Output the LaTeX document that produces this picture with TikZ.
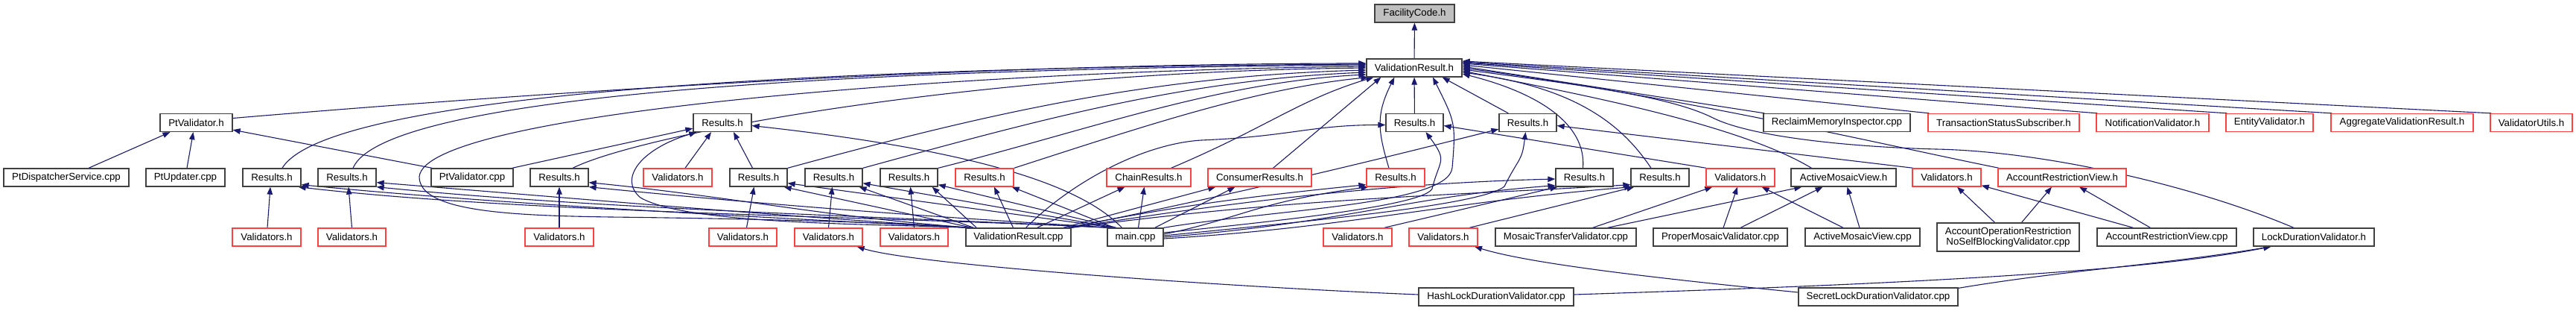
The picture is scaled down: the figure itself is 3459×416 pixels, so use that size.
\documentclass[tikz,border=0pt]{standalone}
\usepackage{fontspec}
\setmainfont{Liberation Sans}
\usetikzlibrary{arrows.meta,calc}
\definecolor{edgec}{RGB}{25,25,112}
\definecolor{redb}{RGB}{255,64,64}
\definecolor{grayb}{RGB}{64,64,64}
\definecolor{fcfill}{RGB}{191,191,191}
\pgfdeclarelayer{bg}
\pgfsetlayers{bg,main}
\begin{document}
\begin{tikzpicture}[x=1pt,y=-1pt,
  nb/.style={draw=grayb, line width=1.3pt, fill=white, minimum height=24pt, inner sep=0pt,
    font=\fontsize{13.3}{13.6}\selectfont, text=black, align=center},
  rb/.style={nb, draw=redb},
  dep/.style={draw=edgec, line width=1.1pt, {Triangle[length=10pt,width=7.5pt]}-}]
\useasboundingbox (0,0) rectangle (3459,416);
% row 0 and 1
\node[nb, fill=fcfill, minimum width=107pt] (FC) at (1899.5,18) {FacilityCode.h};
\node[nb, minimum width=128pt] (VR) at (1899,91) {ValidationResult.h};
% row 2
\node[nb, minimum width=97pt] (PtVh) at (263.5,164.5) {PtValidator.h};
\node[nb, minimum width=78pt] (R2a) at (970,164.5) {Results.h};
\node[nb, minimum width=77pt] (R2b) at (1899.5,164.5) {Results.h};
\node[nb, minimum width=77pt] (R2c) at (2051.5,164.5) {Results.h};
\node[nb, minimum width=197pt] (RMI) at (2466.5,164.5) {ReclaimMemoryInspector.cpp};
\node[rb, minimum width=203pt] (TSS) at (2690.5,164.5) {TransactionStatusSubscriber.h};
\node[rb, minimum width=151pt] (NV) at (2890.5,164.5) {NotificationValidator.h};
\node[rb, minimum width=117pt] (EV) at (3047.5,164.5) {EntityValidator.h};
\node[rb, minimum width=191pt] (AVR) at (3225.5,164.5) {AggregateValidationResult.h};
\node[rb, minimum width=110pt] (VU) at (3399,164.5) {ValidatorUtils.h};
% row 3
\node[nb, minimum width=168pt] (PDS) at (89,238) {PtDispatcherService.cpp};
\node[nb, minimum width=106pt] (PU) at (249,238) {PtUpdater.cpp};
\node[nb, minimum width=78pt] (R3a) at (365,238) {Results.h};
\node[nb, minimum width=78pt] (R3b) at (466,238) {Results.h};
\node[nb, minimum width=110pt] (PVc) at (634,238) {PtValidator.cpp};
\node[nb, minimum width=78pt] (R3c) at (751,238) {Results.h};
\node[rb, minimum width=92pt] (V3a) at (910,238) {Validators.h};
\node[nb, minimum width=77pt] (R3d) at (1018.5,238) {Results.h};
\node[nb, minimum width=77pt] (R3e) at (1119.5,238) {Results.h};
\node[nb, minimum width=77pt] (R3f) at (1220.5,238) {Results.h};
\node[rb, minimum width=78pt] (R3g) at (1322,238) {Results.h};
\node[rb, minimum width=113pt] (CR) at (1542.5,238) {ChainResults.h};
\node[rb, minimum width=139pt] (CoR) at (1691.5,238) {ConsumerResults.h};
\node[rb, minimum width=78pt] (R3h) at (1874,238) {Results.h};
\node[nb, minimum width=77pt] (R3i) at (2127.5,238) {Results.h};
\node[nb, minimum width=78pt] (R3j) at (2229,238) {Results.h};
\node[rb, minimum width=92pt] (V3b) at (2337,238) {Validators.h};
\node[nb, minimum width=141pt] (AMVh) at (2475.5,238) {ActiveMosaicView.h};
\node[rb, minimum width=92pt] (V3c) at (2614,238) {Validators.h};
\node[rb, minimum width=172pt] (ARVh) at (2769,238) {AccountRestrictionView.h};
% row 4
\node[rb, minimum width=92pt] (V4a) at (358,318) {Validators.h};
\node[rb, minimum width=91pt] (V4b) at (472.5,318) {Validators.h};
\node[rb, minimum width=92pt] (V4c) at (751,318) {Validators.h};
\node[rb, minimum width=91pt] (V4d) at (997.5,318) {Validators.h};
\node[rb, minimum width=91pt] (V4e) at (1112.5,318) {Validators.h};
\node[rb, minimum width=91pt] (V4f) at (1227.5,318) {Validators.h};
\node[nb, minimum width=141pt] (VRc) at (1367.5,318) {ValidationResult.cpp};
\node[nb, minimum width=75pt] (main) at (1524.5,318) {main.cpp};
\node[rb, minimum width=92pt] (V4g) at (1823,318) {Validators.h};
\node[rb, minimum width=92pt] (V4h) at (1938,318) {Validators.h};
\node[nb, minimum width=189pt] (MTV) at (2102.5,318) {MosaicTransferValidator.cpp};
\node[nb, minimum width=180pt] (PMV) at (2310,318) {ProperMosaicValidator.cpp};
\node[nb, minimum width=154pt] (AMVc) at (2501,318) {ActiveMosaicView.cpp};
\node[nb, minimum width=191pt, minimum height=38pt] (AOR) at (2696.5,318) {AccountOperationRestriction\\NoSelfBlockingValidator.cpp};
\node[nb, minimum width=187pt] (ARVc) at (2909.5,318) {AccountRestrictionView.cpp};
\node[nb, minimum width=162pt] (LDV) at (3107,318) {LockDurationValidator.h};
% row 5
\node[nb, minimum width=208pt] (HLD) at (2009,398) {HashLockDurationValidator.cpp};
\node[nb, minimum width=214pt] (SLD) at (2522,398) {SecretLockDurationValidator.cpp};

\begin{pgfonlayer}{bg}
\fill[white] (0,0) rectangle (3459,416);
\draw[dep] (FC) -- (VR);
% into ValidationResult.h, left side
\draw[dep] ($(VR.west)+(0,-6)$) .. controls +(-500,0) and +(450,-38) .. ($(PtVh.east)+(0,-6)$);
\draw[dep] ($(VR.west)+(0,-5)$) .. controls (1100,90) and (440,125) .. ($(R3a.north)+(14,0)$);
\draw[dep] ($(VR.west)+(0,-4)$) .. controls (1100,93) and (515,130) .. ($(R3b.north)+(8,0)$);
\draw[dep] ($(VR.west)+(0,-2)$) .. controls (1300,95) and (570,150) .. (563,237) .. controls (563,283) and (680,289) .. (820,291) .. controls (1000,293) and (1200,298) .. ($(VRc.north west)+(8,0)$);
\draw[dep] ($(VR.west)+(0,0)$) .. controls (1300,97) and (860,180) .. ($(R3c.north)+(18,0)$);
\draw[dep] ($(VR.west)+(0,3)$) .. controls +(-300,8) and +(250,-68) .. (R3d.north east);
\draw[dep] ($(VR.west)+(0,6)$) .. controls +(-250,10) and +(220,-60) .. (R3e.north east);
\draw[dep] ($(VR.west)+(0,9)$) .. controls +(-200,10) and +(200,-50) .. (R3f.north east);
\draw[dep] ($(VR.south west)+(3,0)$) .. controls +(-150,15) and +(180,-58) .. (R3g.north east);
\draw[dep] ($(VR.south west)+(10,0)$) .. controls +(-100,30) and +(130,-55) .. ($(CR.north)+(30,0)$);
\draw[dep] ($(VR.south west)+(20,0)$) -- ($(CoR.north)+(18,0)$);
\draw[dep] ($(VR.south west)+(38,0)$) .. controls +(-25,50) and +(-15,-50) .. ($(R3h.north)+(-9,0)$);
\draw[dep] (VR) -- (R2b);
\draw[dep] ($(VR.south)+(25,0)$) .. controls +(30,60) and +(5,-60) .. (1950,225) .. controls +(-5,50) and +(150,-25) .. (main.north east);
\draw[dep] ($(VR.south east)+(-27,0)$) -- ($(R2c.north west)+(13,0)$);
\draw[dep] ($(VR.east)+(0,8)$) .. controls +(100,25) and +(5,-60) .. ($(R3i.north)+(-2,0)$);
\draw[dep] ($(VR.east)+(0,6)$) .. controls +(150,20) and +(-40,-60) .. ($(R3j.north)+(-12,0)$);
\draw[dep] ($(VR.east)+(0,4)$) .. controls +(150,30) and +(-100,-60) .. ($(AMVh.north)+(-43,0)$);
\draw[dep] ($(VR.east)+(0,2)$) .. controls +(150,20) and +(-60,-30) .. (2300,158) .. controls +(50,25) and +(-120,-3) .. (2600,200) .. controls +(150,3) and +(-130,-55) .. ($(LDV.north)+(-27,0)$);
\draw[dep] ($(VR.east)+(0,0)$) .. controls +(300,40) and +(-150,-30) .. ($(ARVh.north west)+(2,0)$);
\draw[dep] ($(VR.east)+(0,-2)$) -- ($(RMI.north west)+(2,0)$);
\draw[dep] ($(VR.east)+(0,-4)$) -- ($(TSS.north west)+(2,0)$);
\draw[dep] ($(VR.east)+(0,-6)$) -- ($(NV.north west)+(2,0)$);
\draw[dep] ($(VR.east)+(0,-7)$) -- ($(EV.north west)+(2,0)$);
\draw[dep] ($(VR.east)+(0,-8)$) -- ($(AVR.north west)+(2,0)$);
\draw[dep] ($(VR.east)+(0,-9)$) -- ($(VU.north west)+(2,0)$);
% PtValidator.h
\draw[dep] ($(PtVh.south)+(-35,0)$) -- ($(PDS.north)+(30,0)$);
\draw[dep] ($(PtVh.south)+(-4,0)$) -- ($(PU.north)+(2,0)$);
\draw[dep] ($(PtVh.south east)+(0,-3)$) -- ($(PVc.north west)+(2,0)$);
% Results.h (R2a)
\draw[dep] ($(R2a.south west)+(0,-5)$) -- ($(PVc.north east)+(-2,0)$);
\draw[dep] ($(R2a.south)+(-15,0)$) -- ($(V3a.north)+(10,0)$);
\draw[dep] ($(R2a.south)+(15,0)$) -- ($(R3d.north)+(-8,0)$);
\draw[dep] ($(R2a.south west)+(5,0)$) .. controls (860,200) and (830,240) .. (860,265) .. controls (920,300) and (1150,300) .. ($(VRc.north west)+(12,0)$);
\draw[dep] ($(R2a.east)+(0,4)$) .. controls (1250,195) and (1440,235) .. ($(main.north west)+(20,0)$);
% row 3 to row 4 verticals
\draw[dep] ($(R3a.south)+(-2,0)$) -- ($(V4a.north)+(1,0)$);
\draw[dep] ($(R3b.south)+(2,0)$) -- (V4b.north);
\draw[dep] (R3c) -- (V4c);
\draw[dep] ($(R3d.south)+(-6,0)$) -- ($(V4d.north)+(5,0)$);
\draw[dep] ($(R3e.south)+(-2,0)$) -- (V4e.north);
\draw[dep] ($(R3f.south)+(2,0)$) -- (V4f.north);
% into ValidationResult.cpp and main.cpp
\draw[dep] ($(R3a.south east)+(0,-3)$) .. controls +(250,25) and +(-300,-15) .. ($(VRc.north west)+(3,0)$);
\draw[dep] ($(R3a.south east)+(-4,0)$) .. controls +(300,35) and +(-300,-15) .. ($(main.north west)+(3,0)$);
\draw[dep] ($(R3b.south east)+(0,-6)$) .. controls +(250,20) and +(-250,-15) .. ($(VRc.north west)+(5,0)$);
\draw[dep] ($(R3b.south east)+(0,0)$) .. controls +(300,30) and +(-300,-15) .. ($(main.north west)+(5,0)$);
\draw[dep] ($(R3c.south east)+(0,-6)$) .. controls +(200,20) and +(-200,-15) .. ($(VRc.north west)+(7,0)$);
\draw[dep] ($(R3c.south east)+(0,0)$) .. controls +(250,25) and +(-250,-15) .. ($(main.north west)+(7,0)$);
\draw[dep] ($(R3d.south east)+(-5,0)$) -- ($(VRc.north west)+(9,0)$);
\draw[dep] ($(R3d.south east)+(0,-5)$) -- ($(main.north west)+(9,0)$);
\draw[dep] ($(R3e.south east)+(-5,0)$) -- ($(VRc.north west)+(11,0)$);
\draw[dep] ($(R3e.south east)+(0,-5)$) -- ($(main.north west)+(11,0)$);
\draw[dep] ($(R3f.south east)+(-8,0)$) -- ($(VRc.north west)+(15,0)$);
\draw[dep] ($(R3f.south east)+(0,-3)$) -- ($(main.north west)+(13,0)$);
\draw[dep] ($(R3g.south)+(13,0)$) -- ($(VRc.north)+(-7,0)$);
\draw[dep] ($(R3g.south east)+(-3,0)$) -- ($(main.north west)+(10,0)$);
\draw[dep] ($(CR.south)+(-32,0)$) -- ($(VRc.north)+(25,0)$);
\draw[dep] ($(CR.south)+(-6,0)$) -- ($(main.north)+(4,0)$);
\draw[dep] ($(CoR.south west)+(11,0)$) -- ($(VRc.north east)+(-11,0)$);
\draw[dep] ($(CoR.south)+(-33,0)$) -- ($(main.north east)+(-12,0)$);
\draw[dep] ($(R3h.south west)+(0,-3)$) .. controls +(-150,15) and +(150,-30) .. ($(VRc.north east)+(-6,0)$);
\draw[dep] ($(R3h.south west)+(3,0)$) .. controls +(-150,20) and +(100,-20) .. ($(main.east)+(0,-4)$);
\draw[dep] ($(R2b.west)+(0,3)$) .. controls +(-100,0) and +(120,-5) .. (1613,188) .. controls +(-80,5) and +(60,-60) .. ($(VRc.north)+(10,0)$);
\draw[dep] ($(R2b.south)+(15,0)$) .. controls +(30,40) and +(10,-40) .. (1923,253) .. controls +(-10,20) and +(200,-20) .. ($(main.east)+(0,-6)$);
\draw[dep] ($(R2c.south west)+(0,-4)$) .. controls +(-120,30) and +(250,-50) .. ($(VRc.north east)+(-3,0)$);
\draw[dep] ($(R2c.south)+(-3,0)$) .. controls +(-5,40) and +(20,-40) .. (2020,250) .. controls +(-30,25) and +(200,-20) .. ($(main.east)+(0,-2)$);
\draw[dep] ($(R3i.west)+(0,2)$) .. controls +(-200,5) and +(250,-40) .. ($(VRc.north east)+(-1,0)$);
\draw[dep] ($(R3i.south west)+(0,-2)$) .. controls +(-200,15) and +(250,-20) .. (main.east);
\draw[dep] ($(R3j.south west)+(0,-3)$) .. controls +(-250,15) and +(300,-40) .. (VRc.north east);
\draw[dep] ($(R3j.south west)+(2,0)$) .. controls +(-250,20) and +(250,-15) .. ($(main.east)+(0,2)$);
\draw[dep] ($(R3i.south west)+(3,0)$) -- ($(V4g.north east)+(-11,0)$);
\draw[dep] ($(R3j.south west)+(5,0)$) -- ($(V4h.north)+(35,0)$);
% R2b, R2c right side
\draw[dep] ($(R2b.east)+(0,4)$) -- ($(V3b.north west)+(1,0)$);
\draw[dep] ($(R2c.east)+(0,4)$) -- ($(V3c.north west)+(2,0)$);
% mosaic
\draw[dep] ($(V3b.south west)+(9,0)$) -- ($(MTV.north)+(36,0)$);
\draw[dep] ($(AMVh.south west)+(15,0)$) -- ($(MTV.north)+(56,0)$);
\draw[dep] ($(V3b.south)+(-4,0)$) -- ($(PMV.north)+(4,0)$);
\draw[dep] ($(AMVh.south)+(-28,0)$) -- ($(PMV.north)+(27,0)$);
\draw[dep] ($(V3b.south east)+(-18,0)$) -- ($(AMVc.north)+(-26,0)$);
\draw[dep] ($(AMVh.south)+(5,0)$) -- ($(AMVc.north)+(-4,0)$);
% account restriction
\draw[dep] ($(V3c.south)+(14,0)$) -- ($(AOR.north)+(-18,0)$);
\draw[dep] ($(ARVh.south)+(-14,0)$) -- ($(AOR.north)+(18,0)$);
\draw[dep] ($(V3c.south east)+(0,-2)$) -- ($(ARVc.north)+(-45,0)$);
\draw[dep] ($(ARVh.south)+(23,0)$) -- ($(ARVc.north)+(-22,0)$);
% lock duration
\draw[dep] ($(V4e.south east)+(-8,0)$) .. controls +(80,25) and +(-250,-10) .. ($(HLD.west)+(0,-3)$);
\draw[dep] ($(V4h.south)+(42,0)$) .. controls +(80,25) and +(-150,-15) .. ($(SLD.west)+(0,-6)$);
\draw[dep] ($(LDV.south west)+(24,0)$) .. controls +(-200,40) and +(300,-10) .. ($(HLD.east)+(0,-3)$);
\draw[dep] ($(LDV.south west)+(24,0)$) .. controls +(-150,25) and +(150,-25) .. ($(SLD.north east)+(0,1)$);
\end{pgfonlayer}
\end{tikzpicture}
\end{document}
